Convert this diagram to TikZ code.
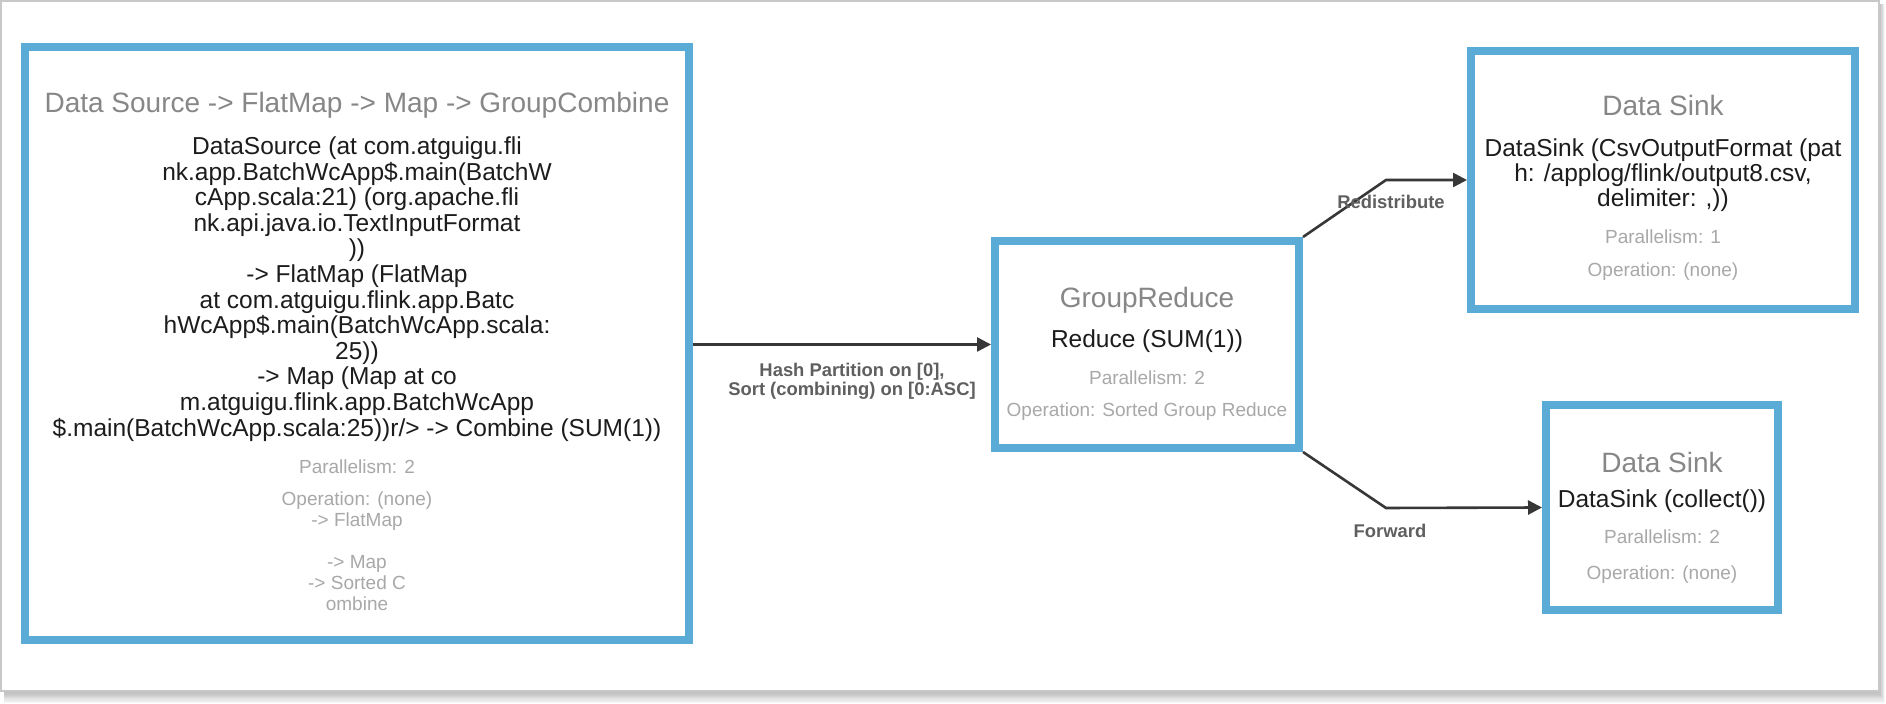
\documentclass[tikz,border=0pt]{standalone}
\usepackage{fontspec}
\setmainfont{Liberation Sans}
\usetikzlibrary{arrows.meta}
\definecolor{boxblue}{RGB}{90,172,214}
\definecolor{titlegray}{RGB}{135,135,135}
\definecolor{bodyink}{RGB}{28,28,28}
\definecolor{smallgray}{RGB}{168,168,168}
\definecolor{labelgray}{RGB}{95,95,95}
\definecolor{linegray}{RGB}{55,55,55}
\definecolor{framegray}{RGB}{200,200,200}
\begin{document}
\begin{tikzpicture}[x=0.5pt,y=-0.5pt,
  opbox/.style={draw=boxblue, line width=4pt, fill=white, inner sep=0pt, rectangle},
  titletext/.style={font=\fontsize{14}{16}\selectfont, text=titlegray, inner sep=0pt},
  bodytext/.style={font=\fontsize{12.25}{12.8}\selectfont, text=bodyink, align=center, inner sep=0pt},
  smalltext/.style={font=\fontsize{9.5}{10.5}\selectfont, text=smallgray, align=center, inner sep=0pt},
  edgelabel/.style={font=\bfseries\fontsize{9.2}{7.6}\selectfont, text=labelgray, align=center, inner sep=0pt},
  conn/.style={draw=linegray, line width=1.3pt, -{Triangle[length=7pt,width=7pt]}},
]
\useasboundingbox (0,0) rectangle (1886,704);
% page and shadow
\foreach \k in {1,...,10}
  \fill[black, opacity=0.03] (4,4) rectangle ({1879+0.6*\k},{691+1.2*\k});
\fill[white, draw=framegray, line width=0.8pt] (1,1) rectangle (1879,691);

% boxes
\node[opbox, minimum width=332pt, minimum height=296.5pt] (src) at (357,343.5) {};
\node[opbox, minimum width=152pt, minimum height=103.5pt] (gr) at (1147,344.5) {};
\node[opbox, minimum width=192pt, minimum height=129pt] (ds1) at (1663,180) {};
\node[opbox, minimum width=116pt, minimum height=102.5pt] (ds2) at (1662,507.5) {};

% source texts
\node[titletext] (srctitle) at (357,105) {Data Source -> FlatMap -> Map -> GroupCombine};
\node[bodytext] (srcbody) at (357,289) {DataSource (at com.atguigu.fli\\
nk.app.BatchWcApp\$.main(BatchW\\
cApp.scala:21) (org.apache.fli\\
nk.api.java.io.TextInputFormat\\
))\\
-> FlatMap (FlatMap\\
at com.atguigu.flink.app.Batc\\
hWcApp\$.main(BatchWcApp.scala:\\
25))\\
-> Map (Map at co\\
m.atguigu.flink.app.BatchWcApp\\
\$.main(BatchWcApp.scala:25))r/> -> Combine (SUM(1))};
\node[smalltext] (srcpar) at (357,467) {Parallelism: 2};
\node[smalltext] (srcop) at (357,551.5) {Operation: (none)\\-> FlatMap\\[10.5pt]-> Map\\-> Sorted C\\ombine};

% group reduce texts
\node[titletext] (grtitle) at (1147,300) {GroupReduce};
\node[bodytext] (grbody) at (1147,341) {Reduce (SUM(1))};
\node[smalltext] (grpar) at (1147,378) {Parallelism: 2};
\node[smalltext] (grop) at (1147,412) {Operation: Sorted Group Reduce};

% data sink 1 texts
\node[titletext] (ds1title) at (1663,106) {Data Sink};
\node[bodytext, font=\fontsize{12.25}{12.5}\selectfont] (ds1body) at (1663,175) {DataSink (CsvOutputFormat (pat\\h: /applog/flink/output8.csv,\\delimiter: ,))};
\node[smalltext] (ds1par) at (1663,237) {Parallelism: 1};
\node[smalltext] (ds1op) at (1663,272) {Operation: (none)};

% data sink 2 texts
\node[titletext] (ds2title) at (1662,462) {Data Sink};
\node[bodytext] (ds2body) at (1662,501) {DataSink (collect())};
\node[smalltext] (ds2par) at (1662,537) {Parallelism: 2};
\node[smalltext] (ds2op) at (1662,575) {Operation: (none)};

% connectors
\coordinate (bendA) at (1386,180);
\coordinate (bendB) at (1386,508);
\draw[conn] (gr.west -| src.east) -- (gr.west);
\draw[conn] (gr.north east) -- (bendA) -- (ds1.west);
\draw[conn] (gr.south east) -- (bendB) -- (ds2.west);

% edge labels
\node[edgelabel] (lblhash) at (852,381) {Hash Partition on [0],\\Sort (combining) on [0:ASC]};
\node[edgelabel] (lblred) at (1391,202) {Redistribute};
\node[edgelabel] (lblfwd) at (1390,531) {Forward};
\end{tikzpicture}
\end{document}
